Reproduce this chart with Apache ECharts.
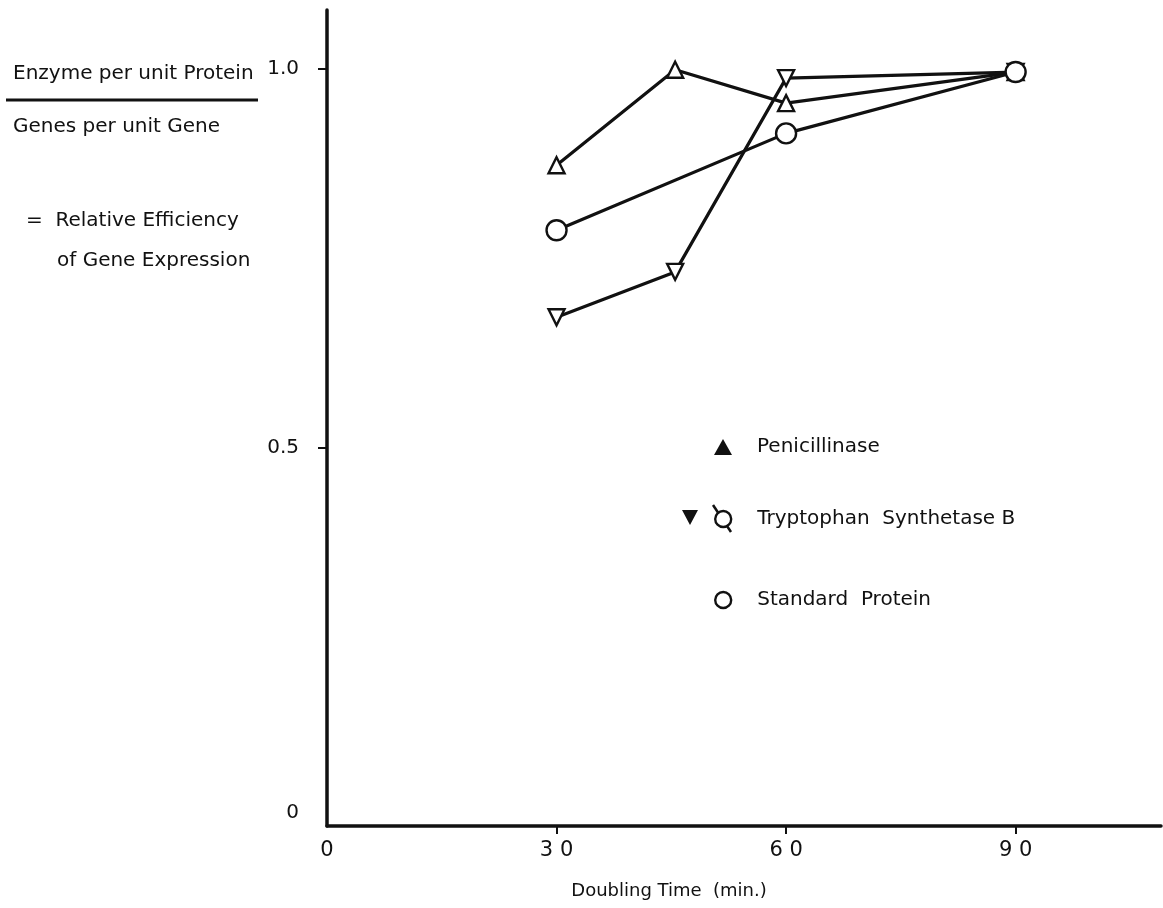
<!DOCTYPE html>
<html>
<head>
<meta charset="utf-8">
<script src="https://cdn.jsdelivr.net/npm/echarts@6/dist/echarts.min.js"></script>
<style>
  html, body { margin: 0; padding: 0; background: #fff; }
  #chart { width: 1163px; height: 908px; }
</style>
</head>
<body>
<div id="chart"></div>
<script>
// 数据
const penicillinase = [[30, 0.873], [45.5, 0.999], [60, 0.955], [90, 0.996]];
const tryptophanB = [[30, 0.672], [45.5, 0.732], [60, 0.988], [90, 0.996]];
const standardProtein = [[30, 0.787], [60, 0.915], [90, 0.996]];
const xTicks = [0, 30, 60, 90];
const yTicks = [0, 0.5, 1.0];
const seriesNames = ['Penicillinase', 'Tryptophan  Synthetase B', 'Standard  Protein'];

const ink = '#111';
const font = '"DejaVu Sans", sans-serif';

const chart = echarts.init(document.getElementById('chart'));

const lineSeries = (name, data, symbol, size) => ({
    name: name,
    type: 'line',
    data: data,
    symbol: symbol,
    symbolSize: size,
    showSymbol: true,
    lineStyle: { color: ink, width: 3.2 },
    itemStyle: { color: '#fff', borderColor: ink, borderWidth: 2.4 },
    z: 3
});

// 单项图例，方便逐行定位
const legendRow = (name, top, icon, style) => ({
    orient: 'vertical',
    left: 709,
    top: top,
    itemWidth: 18,
    itemHeight: 16,
    selectedMode: false,
    textStyle: { color: ink, fontSize: 20, fontFamily: font, padding: [0, 0, 0, 20] },
    data: [{ name: name, icon: icon, itemStyle: style }]
});

chart.setOption({
    animation: false,
    backgroundColor: '#fff',
    grid: { left: 327, top: 10, right: 2, bottom: 82, containLabel: false },
    xAxis: {
        type: 'value',
        min: 0,
        max: 109,
        name: 'Doubling Time  (min.)',
        nameLocation: 'middle',
        nameGap: 56,
        nameTextStyle: { color: ink, fontSize: 18, fontFamily: font, padding: [0, 150, 0, 0] },
        axisLine: { lineStyle: { color: ink, width: 3.5 } },
        axisTick: { customValues: [30, 60, 90], length: 8, lineStyle: { color: ink, width: 2 } },
        axisLabel: {
            customValues: xTicks,
            margin: 14,
            color: ink,
            fontSize: 21,
            fontFamily: font,
            formatter: v => String(v).split('').join(' ')
        },
        splitLine: { show: false }
    },
    yAxis: {
        type: 'value',
        min: 0,
        max: 1.078,
        axisLine: { lineStyle: { color: ink, width: 3.5 } },
        axisTick: { customValues: [0.5, 1.0], length: 9, lineStyle: { color: ink, width: 2 } },
        axisLabel: {
            customValues: yTicks,
            margin: 28,
            color: ink,
            fontSize: 20,
            fontFamily: font,
            formatter: v => (v === 0 ? '{z|0}' : v.toFixed(1)),
            rich: { z: { fontSize: 20, fontFamily: font, color: ink, padding: [0, 0, 26, 0] } }
        },
        splitLine: { show: false }
    },
    legend: [
        legendRow(seriesNames[0], 432, 'triangle', { color: ink, borderWidth: 0 }),
        legendRow(seriesNames[1], 504, 'circle', { color: '#fff', borderColor: ink, borderWidth: 2.4 }),
        legendRow(seriesNames[2], 585, 'circle', { color: '#fff', borderColor: ink, borderWidth: 2.4 })
    ],
    graphic: [
        { type: 'text', left: 13, top: 64, style: { text: 'Enzyme per unit Protein', fill: ink, font: '20px ' + font } },
        { type: 'line', shape: { x1: 6, y1: 100, x2: 258, y2: 100 }, style: { stroke: ink, lineWidth: 3 } },
        { type: 'text', left: 13, top: 117, style: { text: 'Genes per unit Gene', fill: ink, font: '20px ' + font } },
        { type: 'text', left: 26, top: 211, style: { text: '=  Relative Efficiency', fill: ink, font: '20px ' + font } },
        { type: 'text', left: 57, top: 251, style: { text: 'of Gene Expression', fill: ink, font: '20px ' + font } },
        // 色氨酸图例旁的实心倒三角和斜线
        { type: 'polygon', shape: { points: [[682, 510], [698, 510], [690, 525]] }, style: { fill: ink } },
        { type: 'line', shape: { x1: 713, y1: 505, x2: 731, y2: 532 }, style: { stroke: ink, lineWidth: 2.5 } }
    ],
    series: [
        lineSeries(seriesNames[0], penicillinase, 'triangle', 16),
        lineSeries(seriesNames[1], tryptophanB, 'path://M0,0 L10,0 L5,9 Z', 16),
        lineSeries(seriesNames[2], standardProtein, 'circle', 20)
    ]
});
</script>
</body>
</html>
